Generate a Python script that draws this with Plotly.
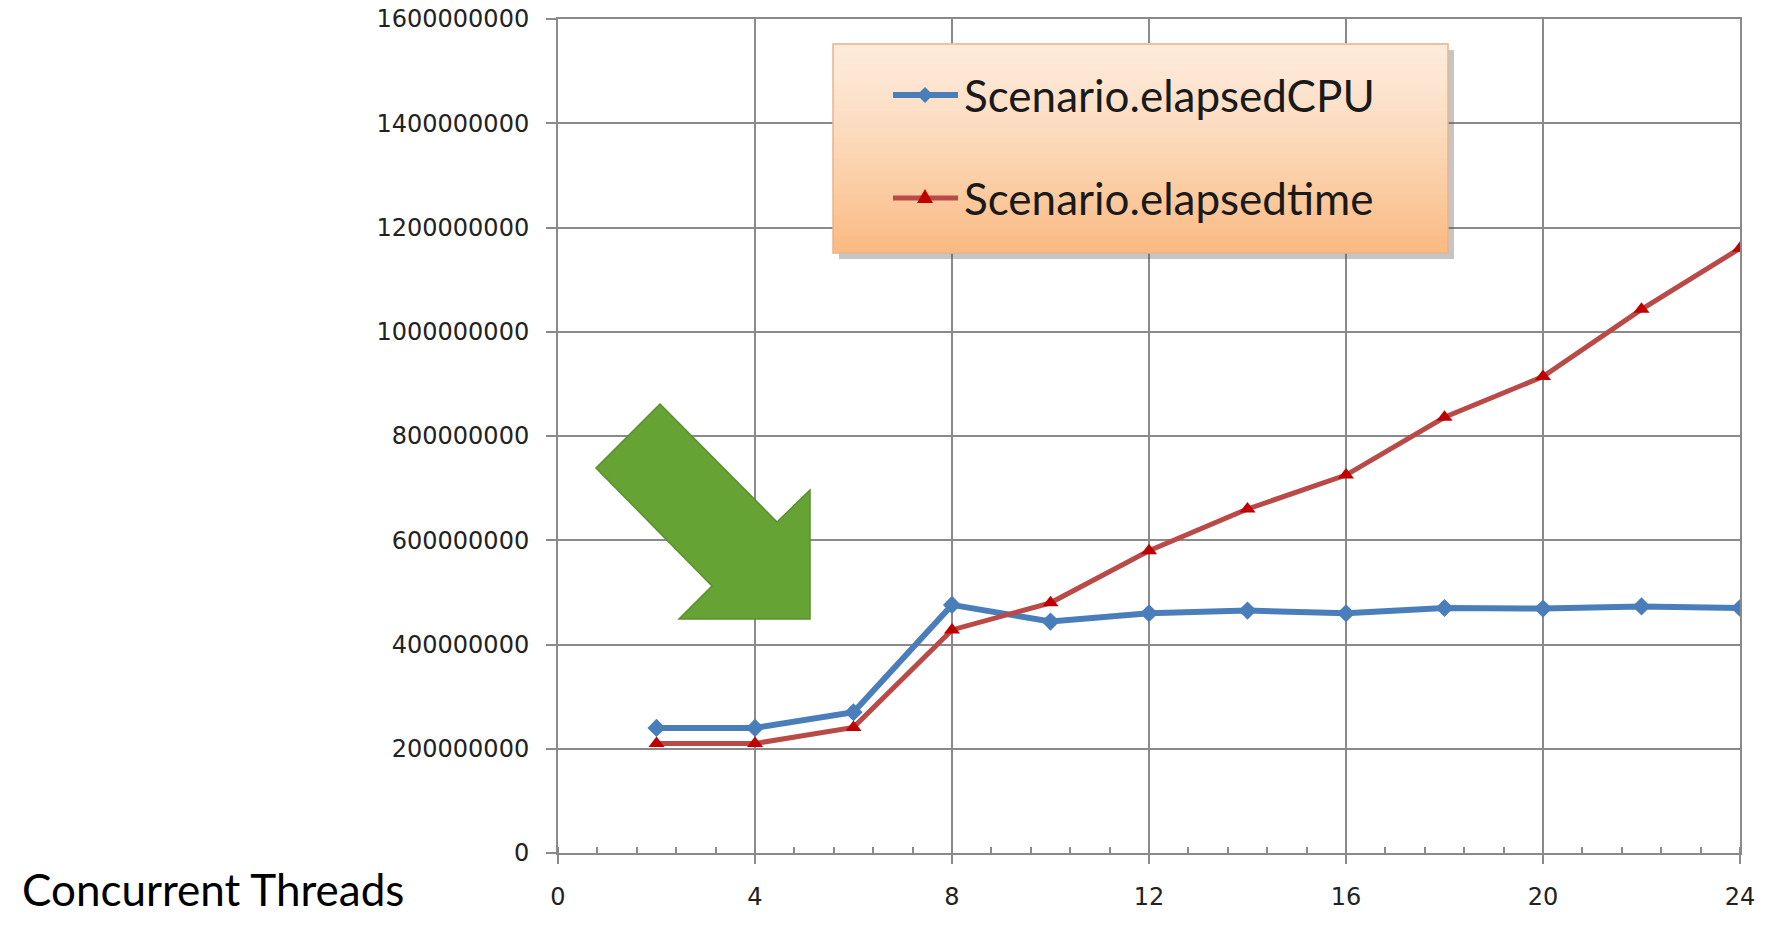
import plotly.graph_objects as go

# ---- data ----
threads = [2, 4, 6, 8, 10, 12, 14, 16, 18, 20, 22, 24]
elapsed_cpu = [240e6, 240e6, 270e6, 476e6, 444e6, 460e6, 465e6, 460e6, 470e6, 469e6, 473e6, 470e6]
elapsed_time = [210e6, 210e6, 241e6, 428e6, 480e6, 580e6, 660e6, 725e6, 836e6, 914e6, 1043e6, 1160e6]
series_names = ["Scenario.elapsedCPU", "Scenario.elapsedtime"]
x_label = "Concurrent Threads"

BLUE = "#4a7ebb"
RED_LINE = "#b94a48"
RED_MARK = "#c00000"

# body margin is removed (see post_script), so figure fills the page
W, H = 1781, 928
# plot area in page pixels
PX0, PX1, PY0, PY1 = 558, 1740, 19, 853
L, T = PX0, PY0
R = W - PX1
B = H - PY1
PW, PH = PX1 - PX0, PY1 - PY0


def px(xp, yp):
    """page pixel -> paper coords"""
    return (xp - PX0) / PW, (PY1 - yp) / PH


def poly(points):
    pts = [px(a, b) for a, b in points]
    return "M " + " L ".join("%f,%f" % p for p in pts) + " Z"


grid = "#8a8a8a"
tickfont = dict(family="DejaVu Sans", size=24, color="#222222")

fig = go.Figure()
fig.add_trace(go.Scatter(
    x=threads, y=elapsed_cpu, name=series_names[0], mode="lines+markers",
    line=dict(color=BLUE, width=6),
    marker=dict(symbol="diamond", size=14, color=BLUE),
))
fig.add_trace(go.Scatter(
    x=threads, y=elapsed_time, name=series_names[1], mode="lines+markers",
    line=dict(color=RED_LINE, width=5),
    marker=dict(symbol="triangle-up", size=14, color=RED_MARK),
))

shapes = []
annotations = []
# legend box with shadow and gradient
lx0, ly0, lx1, ly1 = 833, 44, 1448, 253
sx0, sy0 = px(lx0 + 6, ly1 + 6)
sx1, sy1 = px(lx1 + 6, ly0 + 6)
shapes.append(dict(type="rect", xref="paper", yref="paper", x0=sx0, y0=sy0, x1=sx1, y1=sy1,
                   fillcolor="rgba(90,90,90,0.35)", line=dict(width=0), layer="above"))
N = 40
c_top = (253, 234, 218)
c_bot = (250, 186, 130)
for i in range(N):
    t = (i / (N - 1)) ** 1.3
    c = tuple(int(round(a + (b - a) * t)) for a, b in zip(c_top, c_bot))
    ya = ly0 + (ly1 - ly0) * i / N
    yb = ly0 + (ly1 - ly0) * (i + 1) / N
    x0p, y0p = px(lx0, yb)
    x1p, y1p = px(lx1, ya)
    shapes.append(dict(type="rect", xref="paper", yref="paper", x0=x0p, y0=y0p, x1=x1p, y1=y1p + 0.001,
                       fillcolor="rgb(%d,%d,%d)" % c, line=dict(width=0), layer="above"))
bx0, by0 = px(lx0, ly1)
bx1, by1 = px(lx1, ly0)
shapes.append(dict(type="rect", xref="paper", yref="paper", x0=bx0, y0=by0, x1=bx1, y1=by1,
                   fillcolor="rgba(0,0,0,0)", line=dict(width=1.5, color="#e9b48a"), layer="above"))

# legend entries (drawn manually to get the long sample line)
entries = [
    (series_names[0], 95, BLUE, 6, "diamond", BLUE),
    (series_names[1], 198, RED_LINE, 5, "triangle", RED_MARK),
]
for name, yc, lc, lw, sym, mc in entries:
    xa, ya_ = px(893, yc)
    xb, _ = px(958, yc)
    shapes.append(dict(type="line", xref="paper", yref="paper", x0=xa, y0=ya_, x1=xb, y1=ya_,
                       line=dict(color=lc, width=lw), layer="above"))
    cxm = 925
    if sym == "diamond":
        path = poly([(cxm, yc - 8), (cxm + 8, yc), (cxm, yc + 8), (cxm - 8, yc)])
    else:
        path = poly([(cxm, yc - 9), (cxm + 8, yc + 5), (cxm - 8, yc + 5)])
    shapes.append(dict(type="path", xref="paper", yref="paper", path=path,
                       fillcolor=mc, line=dict(width=0), layer="above"))
    tx, ty = px(962, yc)
    annotations.append(dict(text=name, xref="paper", yref="paper", x=tx, y=ty,
                            xanchor="left", yanchor="middle", showarrow=False,
                            font=dict(family="Lato", size=44, color="#1a1a1a")))

# green arrow
arrow_px = [(660, 404), (777, 522), (810, 490), (810, 619), (679, 619), (712, 586), (596, 468)]
shapes.append(dict(type="path", xref="paper", yref="paper", path=poly(arrow_px),
                   fillcolor="#66a335", line=dict(color="#5c8f2c", width=1.5), layer="above"))

cx, cy = px(20, 889)
annotations.append(dict(text=x_label, xref="paper", yref="paper", x=cx, y=cy,
                        xanchor="left", yanchor="middle", showarrow=False,
                        font=dict(family="Lato", size=44, color="#000000")))

fig.update_layout(
    width=W, height=H, autosize=False,
    margin=dict(l=L, r=R, t=T, b=B, pad=0, autoexpand=False),
    paper_bgcolor="white", plot_bgcolor="white",
    shapes=shapes,
    annotations=annotations,
    showlegend=False,
    xaxis=dict(range=[0, 24], dtick=4, tick0=0, showgrid=True, gridcolor=grid, gridwidth=2,
               showline=True, linecolor=grid, linewidth=2, mirror=True, zeroline=False,
               ticks="outside", ticklen=9, tickwidth=2, tickcolor=grid, automargin=False,
               minor=dict(dtick=0.8, tick0=0, ticks="inside", ticklen=6, tickwidth=1.5,
                          tickcolor=grid, showgrid=False),
               tickfont=tickfont, ticklabelstandoff=12, ticklabeloverflow="allow"),
    yaxis=dict(range=[0, 1.6e9], dtick=2e8, tick0=0, tickformat="d", showgrid=True,
               gridcolor=grid, gridwidth=2, showline=True, linecolor=grid, linewidth=2,
               mirror=True, zeroline=False, ticks="outside", ticklen=10, tickwidth=2,
               tickcolor=grid, tickfont=tickfont, ticklabelstandoff=12, automargin=False,
               ticklabeloverflow="allow"),
)

fig.write_html(
    "out.html",
    config={"displayModeBar": False},
    post_script="document.body.style.margin='0';document.body.style.overflow='hidden';",
)
